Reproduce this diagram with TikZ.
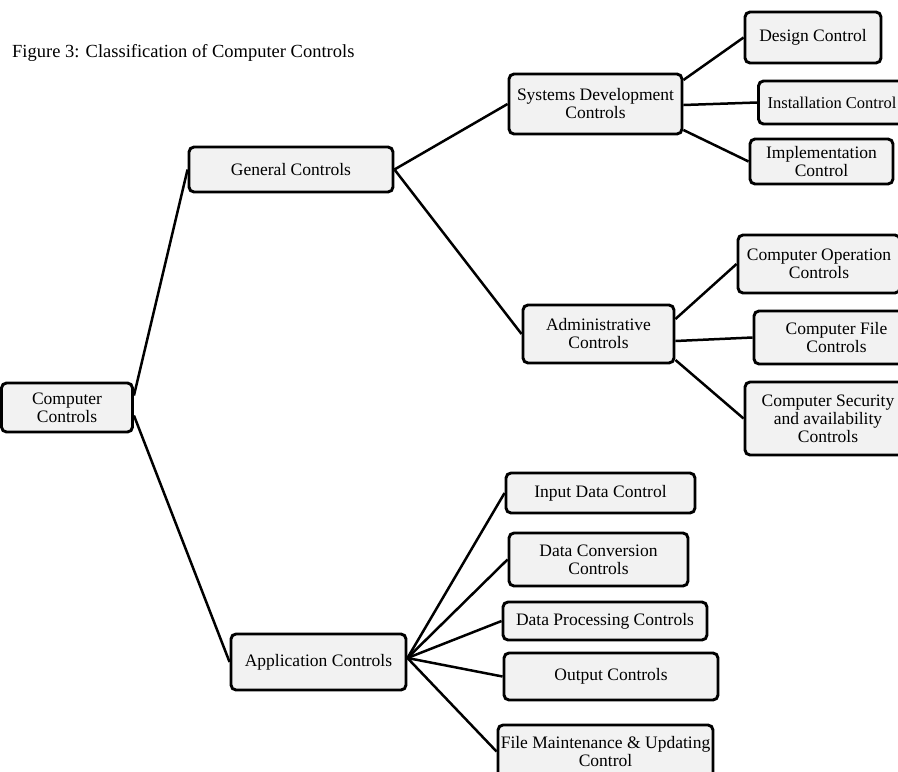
\documentclass[tikz,border=0pt]{standalone}
\usepackage{fontspec}
\setmainfont{Liberation Serif}
\usepackage{tikz}
\usetikzlibrary{calc}

\definecolor{boxgray}{HTML}{F2F2F2}

\tikzset{
  box/.style = {draw, line width = 2.9pt, rounded corners = 5pt, fill = boxgray,
                align = center, inner sep = 0pt,
                font = \fontsize{17.5}{18}\selectfont},
  link/.style = {line width = 2.5pt},
}

\begin{document}
\begin{tikzpicture}[x = 1pt, y = -1pt]
      \useasboundingbox (0, 0) rectangle (898, 772);
      \node [anchor = base west, inner sep = 0pt, font = \fontsize{18.5}{20}\selectfont] (title) at (12, 57)
        {Figure 3: Classification of Computer Controls};
      % root and first level
      \node [box, minimum width = 131, minimum height = 49] (cc) at (67, 407.5) {Computer\\Controls};
      \node [box, minimum width = 204, minimum height = 45] (gen) at (291, 169.5) {General Controls};
      \node [box, minimum width = 175, minimum height = 56] (app) at (318.5, 662) {Application Controls};
      % general controls
      \node [box, minimum width = 173, minimum height = 60] (sysdev) at (595.5, 104) {Systems Development\\Controls};
      \node [box, minimum width = 151, minimum height = 58] (admin) at (598.5, 334) {Administrative\\Controls};
      \node [box, minimum width = 136, minimum height = 51] (design) at (813, 37.5) {Design Control};
      \node [box, minimum width = 147, minimum height = 43, font = \fontsize{16.5}{18}\selectfont]
        (install) at (832, 102.5) {Installation Control};
      \node [box, minimum width = 143, minimum height = 45] (impl) at (821.5, 161.5) {Implementation\\Control};
      \node [box, minimum width = 162, minimum height = 58] (compop) at (819, 264) {Computer Operation\\Controls};
      \node [box, minimum width = 165, minimum height = 53] (compfile) at (836.5, 337.5) {Computer File\\Controls};
      \node [box, minimum width = 166, minimum height = 73] (compsec) at (828, 418.5) {Computer Security\\and availability\\Controls};
      % application controls
      \node [box, minimum width = 189, minimum height = 40] (input) at (600.5, 493) {Input Data Control};
      \node [box, minimum width = 179, minimum height = 53] (dconv) at (598.5, 559.5) {Data Conversion\\Controls};
      \node [box, minimum width = 204, minimum height = 38] (dproc) at (605, 621) {Data Processing Controls};
      \node [box, minimum width = 214, minimum height = 47] (output) at (611, 676.5) {Output Controls};
      \node [box, minimum width = 215, minimum height = 53] (fmaint) at (605.5, 751.5) {File Maintenance \& Updating\\Control};
      % connectors
      \draw [link] ($(cc.east) + (0, -12)$) -- (gen.west);
      \draw [link] ($(cc.east) + (0, 8)$) -- (app.west);
      \draw [link] (gen.east) -- (sysdev.west);
      \draw [link] (gen.east) -- (admin.west);
      \draw [link] ($(sysdev.east) + (0, -24)$) -- (design.west);
      \draw [link] ($(sysdev.east) + (0, 1)$) -- (install.west);
      \draw [link] ($(sysdev.east) + (0, 26)$) -- (impl.west);
      \draw [link] ($(admin.east) + (0, -15)$) -- (compop.west);
      \draw [link] ($(admin.east) + (0, 7)$) -- (compfile.west);
      \draw [link] ($(admin.east) + (0, 26)$) -- (compsec.west);
      \foreach \c in {input, dconv, dproc, output, fmaint}{
        \draw [link] ($(app.east) + (0, -4)$) -- (\c.west);
      }
\end{tikzpicture}
\end{document}
